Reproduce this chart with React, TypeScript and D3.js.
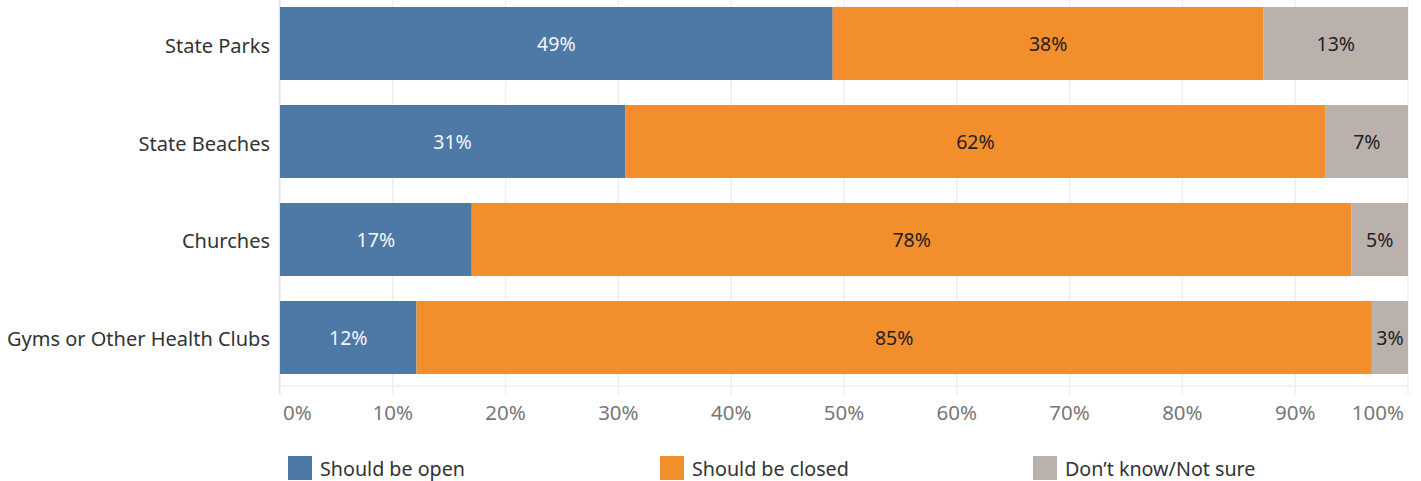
import React from "react";
import * as d3 from "d3";

const categories = ["State Parks", "State Beaches", "Churches", "Gyms or Other Health Clubs"];
const seriesNames = ["Should be open", "Should be closed", "Don\u2019t know/Not sure"];
const openVals = [49.0, 30.6, 17.0, 12.1];
const closedVals = [38.2, 62.1, 78.0, 84.7];
const unsureVals = [12.8, 7.3, 5.0, 3.2];
const ticks = [0, 10, 20, 30, 40, 50, 60, 70, 80, 90, 100];
const colors = ["#4e79a7", "#f28e2b", "#bab0ac"];
const labelColors = ["#f4f6f9", "#222222", "#222222"];

const W = 1421;
const H = 481;
const FONT = "'Noto Sans', sans-serif";

export default function App() {
  const x = d3.scaleLinear().domain([0, 100]).range([280, 1408]);
  const y = d3.scaleBand<string>().domain(categories).range([-5.5, 386.5]).paddingInner(0.255).paddingOuter(0.1276);

  const rows = categories.map((c, i) => ({ cat: c, open: openVals[i], closed: closedVals[i], unsure: unsureVals[i] }));
  const stack = d3.stack<any>().keys(["open", "closed", "unsure"])(rows);

  const bw = y.bandwidth();
  const legendX = [288, 660, 1033];

  return (
    <svg width={W} height={H} style={{ position: "absolute", left: 0, top: 0 }} fontFamily={FONT}>
      {/* gridlines */}
      {ticks.map((t) => (
        <line key={t} x1={x(t)} x2={x(t)} y1={0} y2={395} stroke="#efefef" strokeWidth={1.5} />
      ))}
      <line x1={x(0)} x2={x(100)} y1={386} y2={386} stroke="#efefef" strokeWidth={1.5} />
      <line x1={x(0) - 0.5} x2={x(0) - 0.5} y1={0} y2={395} stroke="#e6e6e6" strokeWidth={1.5} />

      {/* bars */}
      {stack.map((s, si) => (
        <g key={si}>
          {s.map((d: any, i: number) => {
            const x0 = x(d[0]);
            const x1 = x(d[1]);
            const yy = y(categories[i]) as number;
            const v = d[1] - d[0];
            return (
              <g key={i}>
                <rect x={x0} y={yy} width={x1 - x0} height={bw} fill={colors[si]} />
                <text
                  x={(x0 + x1) / 2}
                  y={yy + bw / 2 + 1}
                  dy="0.35em"
                  textAnchor="middle"
                  fontSize={19.5}
                  fill={labelColors[si]}
                >
                  {Math.round(v) + "%"}
                </text>
              </g>
            );
          })}
        </g>
      ))}

      {/* category labels */}
      {categories.map((c) => (
        <text key={c} x={270} y={(y(c) as number) + bw / 2 + 2} dy="0.35em" textAnchor="end" fontSize={20} fill="#333333">
          {c}
        </text>
      ))}

      {/* tick labels */}
      {ticks.map((t, i) => (
        <text
          key={t}
          x={i === 0 ? x(t) + 3 : i === ticks.length - 1 ? x(t) - 4 : x(t)}
          y={420}
          textAnchor={i === 0 ? "start" : i === ticks.length - 1 ? "end" : "middle"}
          fontSize={20.5}
          fill="#777777"
        >
          {t + "%"}
        </text>
      ))}

      {/* legend */}
      {seriesNames.map((n, i) => (
        <g key={n}>
          <rect x={legendX[i]} y={456} width={24} height={24} fill={colors[i]} />
          <text x={legendX[i] + 32} y={469} dy="0.35em" fontSize={19.7} fill="#333333">
            {n}
          </text>
        </g>
      ))}
    </svg>
  );
}
